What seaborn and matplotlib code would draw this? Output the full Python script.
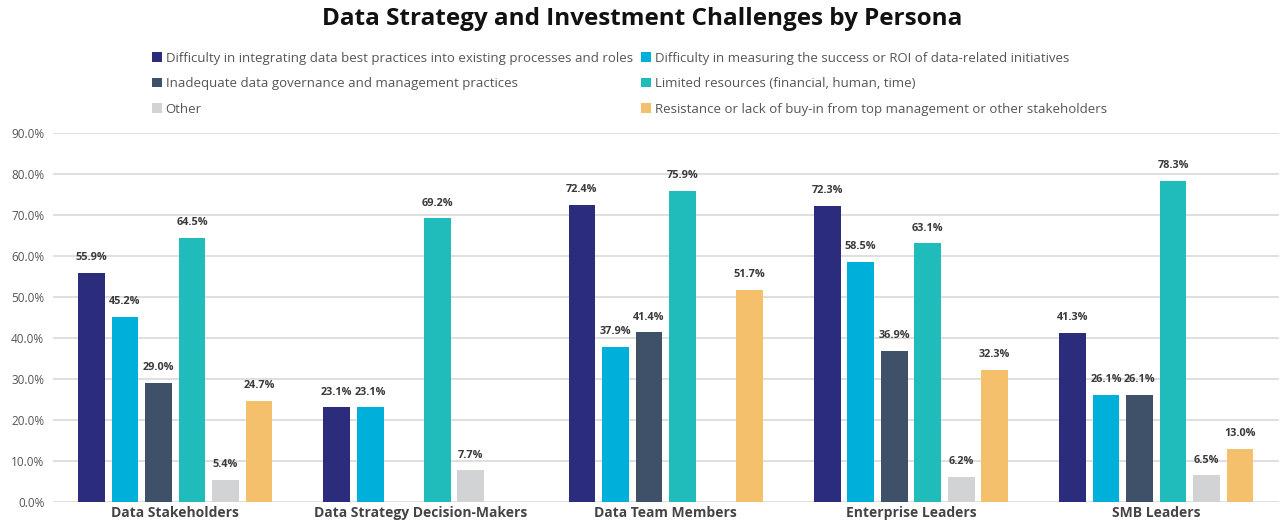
import numpy as np
import pandas as pd
import matplotlib
matplotlib.use("Agg")
import matplotlib.pyplot as plt
import seaborn as sns
from matplotlib.patches import Patch

personas = ["Data Stakeholders", "Data Strategy Decision-Makers", "Data Team Members",
            "Enterprise Leaders", "SMB Leaders"]
series_names = [
    "Difficulty in integrating data best practices into existing processes and roles",
    "Difficulty in measuring the success or ROI of data-related initiatives",
    "Inadequate data governance and management practices",
    "Limited resources (financial, human, time)",
    "Other",
    "Resistance or lack of buy-in from top management or other stakeholders",
]
integrating = [55.9, 23.1, 72.4, 72.3, 41.3]
measuring = [45.2, 23.1, 37.9, 58.5, 26.1]
governance = [29.0, np.nan, 41.4, 36.9, 26.1]
resources = [64.5, 69.2, 75.9, 63.1, 78.3]
other = [5.4, 7.7, np.nan, 6.2, 6.5]
resistance = [24.7, np.nan, 51.7, 32.3, 13.0]
yticks = [0, 10, 20, 30, 40, 50, 60, 70, 80, 90]

colors = ["#2b2d7c", "#00b0da", "#3f5168", "#20bcbc", "#d2d3d5", "#f4c06b"]

all_vals = [integrating, measuring, governance, resources, other, resistance]
rows = []
for s, vals in zip(series_names, all_vals):
    for p, v in zip(personas, vals):
        rows.append({"Persona": p, "Series": s, "Value": v})
df = pd.DataFrame(rows)

sns.set_theme(style="white")
plt.rcParams["font.family"] = ["Open Sans", "DejaVu Sans"]

fig = plt.figure(figsize=(12.84, 5.31), dpi=100)
ax = fig.add_axes([0.041, 0.0546, 0.955, 0.695])

sns.barplot(data=df, x="Persona", y="Value", hue="Series", hue_order=series_names,
            order=personas, palette=colors, width=0.82, gap=0.2, ax=ax,
            saturation=1, legend=False, edgecolor="none")

ax.set_ylim(0, 90)
ax.set_xlim(-0.5, 4.5)
ax.set_yticks(yticks)
ax.set_yticklabels([f"{t:.1f}%" for t in yticks], fontsize=8.5, color="#555555")
ax.yaxis.grid(True, color="#d9d9d9", linewidth=1.2)
ax.set_axisbelow(True)
for sp in ax.spines.values():
    sp.set_visible(False)
ax.tick_params(axis="both", length=0, pad=6)
ax.set_xlabel("")
ax.set_ylabel("")
ax.set_xticks(range(len(personas)))
ax.set_xticklabels(personas, fontsize=10, fontweight="bold", color="#444444")
ax.tick_params(axis="x", pad=3)

for cont in ax.containers:
    labels = []
    for bar in cont:
        h = bar.get_height()
        labels.append("" if (h is None or np.isnan(h)) else f"{h:.1f}%")
    ax.bar_label(cont, labels=labels, padding=7, fontsize=7.8, fontweight="bold",
                 color="#3a3a3a")

fig.text(0.5, 0.965, "Data Strategy and Investment Challenges by Persona",
         ha="center", va="center", fontsize=17.5, fontweight="bold", color="#111111")

handles = [Patch(facecolor=c, edgecolor="none") for c in colors]
order = [0, 2, 4, 1, 3, 5]
leg = fig.legend([handles[i] for i in order], [series_names[i] for i in order],
                 ncol=2, loc="upper left", bbox_to_anchor=(0.109, 0.925),
                 frameon=False, fontsize=9.5, handlelength=0.75, handleheight=0.75,
                 handletextpad=0.3, columnspacing=0.6, labelspacing=0.95,
                 labelcolor="#555555")

fig.savefig("out.png", dpi=100, facecolor="white")
